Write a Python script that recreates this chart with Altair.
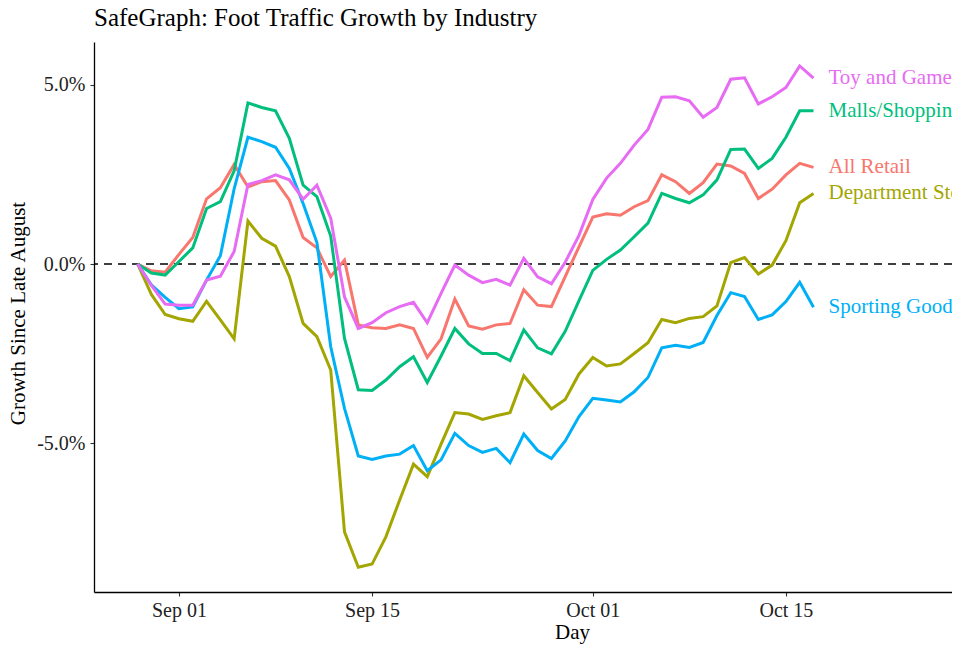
import altair as alt
import pandas as pd

dates = pd.date_range("2020-08-29", periods=50, freq="D").strftime("%Y-%m-%d").tolist()

series = ["All Retail", "Department Stores", "Malls/Shopping Centers",
          "Sporting Goods Stores", "Toy and Game Stores"]
colors = ["#F8766D", "#A3A500", "#00BF7D", "#00B0F6", "#E76BF3"]

all_retail = [0, -0.19, -0.23, 0.27, 0.74, 1.82, 2.13, 2.78, 2.15, 2.30,
              2.33, 1.79, 0.74, 0.45, -0.35, 0.11, -1.70, -1.78, -1.80, -1.70,
              -1.80, -2.61, -2.09, -0.98, -1.73, -1.82, -1.70, -1.66, -0.72, -1.15,
              -1.19, -0.35, 0.48, 1.31, 1.40, 1.36, 1.60, 1.77, 2.49, 2.30,
              1.97, 2.27, 2.79, 2.74, 2.53, 1.83, 2.09, 2.49, 2.81, 2.70]
department = [0, -0.85, -1.41, -1.53, -1.60, -1.04, -1.56, -2.09, 1.20, 0.72,
              0.50, -0.35, -1.66, -2.03, -2.96, -7.48, -8.47, -8.38, -7.62, -6.59,
              -5.59, -5.94, -5.03, -4.15, -4.19, -4.34, -4.24, -4.15, -3.12, -3.59,
              -4.05, -3.78, -3.07, -2.61, -2.85, -2.79, -2.50, -2.20, -1.55, -1.64,
              -1.52, -1.47, -1.17, 0.04, 0.18, -0.28, -0.03, 0.65, 1.71, 1.97]
malls = [0, -0.25, -0.31, 0.07, 0.45, 1.55, 1.74, 2.60, 4.50, 4.37,
         4.28, 3.51, 2.20, 1.88, 0.78, -2.08, -3.51, -3.53, -3.24, -2.87,
         -2.59, -3.31, -2.57, -1.80, -2.23, -2.50, -2.50, -2.70, -1.84, -2.34,
         -2.51, -1.88, -1.02, -0.18, 0.13, 0.39, 0.76, 1.14, 1.97, 1.83,
         1.71, 1.93, 2.35, 3.20, 3.21, 2.67, 2.95, 3.54, 4.28, 4.28]
sporting = [0, -0.58, -0.93, -1.25, -1.20, -0.45, 0.23, 2.10, 3.54, 3.42,
            3.26, 2.67, 1.69, 0.60, -2.31, -4.03, -5.36, -5.46, -5.36, -5.31,
            -5.07, -5.77, -5.47, -4.73, -5.07, -5.26, -5.15, -5.55, -4.75, -5.21,
            -5.43, -4.94, -4.26, -3.75, -3.80, -3.85, -3.57, -3.17, -2.34, -2.27,
            -2.33, -2.19, -1.44, -0.80, -0.91, -1.55, -1.42, -1.05, -0.51, -1.21]
toy = [0, -0.60, -1.12, -1.15, -1.15, -0.45, -0.34, 0.35, 2.22, 2.33,
       2.49, 2.35, 1.81, 2.20, 1.28, -0.92, -1.80, -1.64, -1.36, -1.19,
       -1.07, -1.64, -0.82, -0.03, -0.31, -0.52, -0.43, -0.59, 0.16, -0.36,
       -0.55, 0.05, 0.80, 1.80, 2.40, 2.81, 3.32, 3.76, 4.66, 4.67,
       4.56, 4.10, 4.37, 5.16, 5.20, 4.47, 4.67, 4.93, 5.53, 5.19]

tick_dates = ["2020-09-01", "2020-09-15", "2020-10-01", "2020-10-15"]
y_ticks = [-5, 0, 5]

rows = []
for name, vals in zip(series, [all_retail, department, malls, sporting, toy]):
    for d, v in zip(dates, vals):
        rows.append({"date": d, "industry": name, "growth": v})
df = pd.DataFrame(rows)
last = df[df["date"] == dates[-1]]

DAY = 86400000
def ms(s):
    return int(pd.Timestamp(s, tz="UTC").value // 10**6)
base = ms(dates[0])
x_domain = [base - 3.16 * DAY, base + 59.04 * DAY]
tick_ms = [ms(t) for t in tick_dates]

FONT = "Liberation Serif"

x_enc = alt.X("date:T",
              scale=alt.Scale(type="utc", domain=x_domain),
              axis=alt.Axis(values=tick_ms, labelExpr="utcFormat(datum.value, '%b %d')",
                            title="Day", titleX=478, titleY=46,
                            titleAlign="center", titleBaseline="alphabetic",
                            labelPadding=4))
y_enc = alt.Y("growth:Q",
              scale=alt.Scale(domain=[-9.16, 6.2], nice=False, zero=False),
              axis=alt.Axis(values=y_ticks,
                            labelExpr="(datum.value < 0 ? '-' : '') + format(abs(datum.value), '.1f') + '%'",
                            title="Growth Since Late August", titleX=-70, titleY=271,
                            titleAngle=270, titleAlign="center", titleBaseline="alphabetic",
                            labelPadding=5))
color_enc = alt.Color("industry:N", scale=alt.Scale(domain=series, range=colors), legend=None)

lines = alt.Chart(df).mark_line(strokeWidth=3).encode(x=x_enc, y=y_enc, color=color_enc)

zero = alt.Chart(pd.DataFrame({"growth": [0]})).mark_rule(
    color="black", strokeWidth=1.3, strokeDash=[8, 6]).encode(y="growth:Q")

labels = alt.Chart(last).mark_text(align="left", baseline="middle", dx=15,
                                   font=FONT, fontSize=21).encode(
    x="date:T", y="growth:Q", text="industry:N", color=color_enc)

chart = alt.layer(zero, lines, labels).properties(
    width=858, height=550,
    autosize=alt.AutoSizeParams(type="none"),
    padding={"left": 86, "top": 34, "right": 0, "bottom": 53},
    title=alt.TitleParams("SafeGraph: Foot Traffic Growth by Industry", anchor="start",
                          frame="group", font=FONT, fontSize=25, fontWeight="normal",
                          color="black", baseline="bottom", offset=-14),
).configure_view(stroke=None).configure_axis(
    grid=False, domainColor="black", domainWidth=1.3, tickColor="#333333",
    tickSize=4, tickWidth=1.1, labelFont=FONT, labelFontSize=20, labelColor="#222222",
    titleFont=FONT, titleFontSize=21, titleFontWeight="normal", titleColor="black",
)

chart.save("out.html", embed_options={"renderer": "svg", "actions": False})
